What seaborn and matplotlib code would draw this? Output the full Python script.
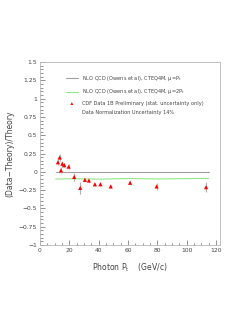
import numpy as np
import pandas as pd
import matplotlib.pyplot as plt
import seaborn as sns

# 数据: CDF photon data 1B vs NLO QCD
pt = [12.2, 13.4, 14.3, 15.2, 16.6, 19.5, 23.3, 27.4, 30.6, 33.3, 37.4, 41.2, 48.2, 61.4, 79.5, 113.2]
ratio = [0.13, 0.195, 0.02, 0.11, 0.09, 0.07, -0.07, -0.22, -0.11, -0.12, -0.17, -0.17, -0.20, -0.15, -0.20, -0.21]
err = [0.04, 0.05, 0.04, 0.04, 0.03, 0.03, 0.05, 0.08, 0.02, 0.02, 0.02, 0.02, 0.02, 0.02, 0.05, 0.07]

theory_pt = [10.7, 20, 40, 60, 80, 100, 115]
theory_mu1 = [0, 0, 0, 0, 0, 0, 0]
theory_mu2 = [-0.10, -0.095, -0.10, -0.092, -0.098, -0.093, -0.09]

labels = ["NLO QCD (Owens et al), CTEQ4M, $\\mu$=P$_t$",
          "NLO QCD (Owens et al), CTEQ4M, $\\mu$=2P$_t$",
          "CDF Data 1B Preliminary (stat. uncertainty only)",
          "Data Normalization Uncertainty 14%"]

sns.set_style("white")
plt.rcParams['font.family'] = ['DejaVu Sans']
plt.rcParams['mathtext.default'] = 'regular'

fig = plt.figure(figsize=(2.53, 3.27), dpi=100)
ax = fig.add_axes([40/253, 82/327, 180/253, 183/327])

df = pd.DataFrame({'pt': pt, 'ratio': ratio, 'err': err})
th = pd.DataFrame({'pt': theory_pt, 'mu1': theory_mu1, 'mu2': theory_mu2})

sns.lineplot(data=th, x='pt', y='mu1', color='#a0a0a0', lw=0.8, ax=ax, label=labels[0])
sns.lineplot(data=th, x='pt', y='mu2', color='#90e888', lw=0.8, ax=ax, label=labels[1])
ax.errorbar(df.pt, df.ratio, yerr=df.err, fmt='none', ecolor='#b0b0b0', elinewidth=0.8)
sns.scatterplot(data=df, x='pt', y='ratio', marker='^', color='red', s=9,
                edgecolor='none', ax=ax, label=labels[2], zorder=3)
ax.plot([], [], ' ', label=labels[3])

ax.set_xlim(0, 122.7)
ax.set_ylim(-1, 1.5)
ax.set_xticks([0, 20, 40, 60, 80, 100, 120])
ax.set_yticks([-1, -0.75, -0.5, -0.25, 0, 0.25, 0.5, 0.75, 1, 1.25, 1.5])
ax.set_yticklabels(['\u22121', '\u22120.75', '\u22120.5', '\u22120.25', '0', '0.25', '0.5', '0.75', '1', '1.25', '1.5'])
ax.set_xticks(np.arange(0, 121, 5), minor=True)
ax.set_yticks(np.arange(-1, 1.51, 0.05), minor=True)
ax.tick_params(which='both', direction='in', labelsize=4.3, colors='#808080',
               labelcolor='#444444', width=0.6, pad=2, bottom=True, left=True)
ax.tick_params(which='major', length=3.5)
ax.tick_params(which='minor', length=1.8)
for s in ax.spines.values():
    s.set_color('#b8b8b8')
    s.set_linewidth(0.6)

ax.set_xlabel('Photon P$_t$    (GeV/c)', fontsize=5.5, color='#444444', labelpad=6)
ax.set_ylabel('(Data\u2212Theory)/Theory', fontsize=5.5, color='#444444', labelpad=3)

leg = ax.legend(loc='upper left', bbox_to_anchor=(0.12, 0.96), frameon=False,
                fontsize=3.6, handlelength=2.3, handletextpad=0.8, labelspacing=0.9,
                markerscale=0.7, labelcolor='#444444')

fig.savefig('out.png', dpi=100)
